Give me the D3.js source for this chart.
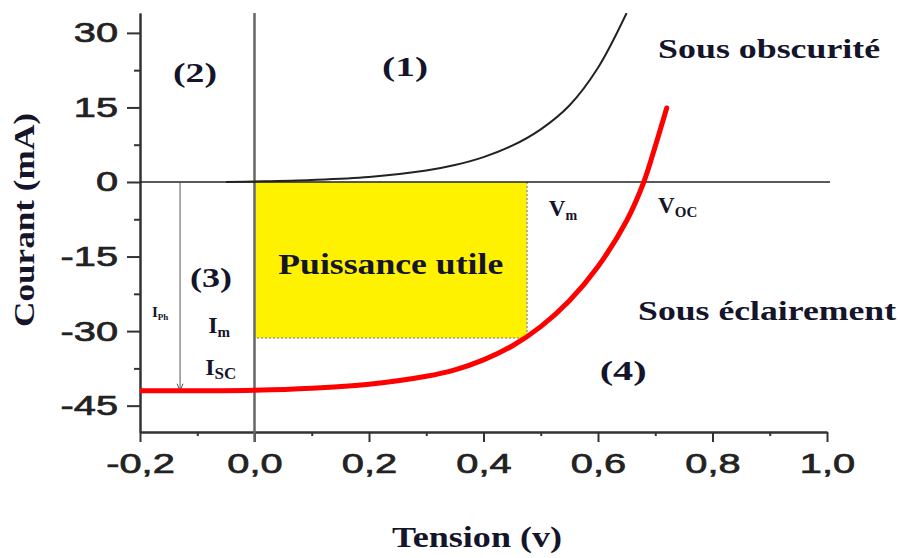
<!DOCTYPE html>
<html>
<head>
<meta charset="utf-8">
<script src="https://cdn.jsdelivr.net/npm/d3@7"></script>
<style>
  body { margin: 0; background: #fff; }
  svg { display: block; }
  .serif { font-family: "Liberation Serif", "Times New Roman", serif; font-weight: bold; fill: #14142a; }
  .tick text { font-family: "Liberation Sans", Arial, sans-serif; font-size: 28px; fill: #222; stroke: #222; stroke-width: 0.7px; }
</style>
</head>
<body>
<div id="chart-area"></div>
<script>

var width = 900,
    height = 558;

// Axis ticks
var xTicks = [-0.2, 0.0, 0.2, 0.4, 0.6, 0.8, 1.0];
var xMinor = [-0.1, 0.1, 0.3, 0.5, 0.7, 0.9];
var yTicks = [30, 15, 0, -15, -30, -45];
var yMinor = [22.5, 7.5, -7.5, -22.5, -37.5];

// Sous obscurité (dark curve)
var darkV = [-0.05, 0.0, 0.1, 0.2, 0.3, 0.35, 0.4, 0.45, 0.5, 0.55, 0.6, 0.65];
var darkI = [0.0, 0.1, 0.4, 1.0, 2.3, 3.4, 5.0, 7.3, 10.6, 15.4, 23.0, 34.0];

// Sous éclairement (light curve)
var lightV = [-0.2, -0.1, 0.0, 0.1, 0.2, 0.3, 0.35, 0.4, 0.45, 0.5, 0.55, 0.6, 0.65, 0.68, 0.7, 0.72];
var lightI = [-42.0, -42.0, -41.9, -41.5, -40.7, -39.1, -37.8, -35.8, -33.0, -29.1, -23.9, -17.0, -7.8, 0.0, 7.2, 14.9];

// Puissance utile rectangle and I_Ph marker
var Vm = 0.476, Im = -31.4;
var VPh = -0.13, IPh = -42.0;

var svg = d3.select("#chart-area").append("svg")
    .attr("width", width)
    .attr("height", height);

var x = d3.scaleLinear().domain([-0.2, 1.0]).range([140, 827]);
var y = d3.scaleLinear().domain([-50.3, 34]).range([432, 13]);

svg.append("clipPath").attr("id", "clip")
  .append("rect")
    .attr("x", x(-0.2)).attr("y", y(34))
    .attr("width", x(1.0) - x(-0.2)).attr("height", y(-50.3) - y(34));

// stretch text horizontally
function stretch(sel, k) {
    sel.each(function() {
        var len = this.getComputedTextLength();
        d3.select(this).attr("textLength", len * k).attr("lengthAdjust", "spacingAndGlyphs");
    });
}
function fitTo(sel, w) {
    sel.attr("textLength", w).attr("lengthAdjust", "spacingAndGlyphs");
}

// Yellow rectangle (useful power)
svg.append("rect")
    .attr("x", x(0) + 1)
    .attr("y", y(0))
    .attr("width", x(Vm) - x(0) - 1)
    .attr("height", y(Im) - y(0))
    .attr("fill", "#fff200");

svg.append("path")
    .attr("d", "M" + x(Vm) + "," + y(0) + "V" + y(Im) + "H" + (x(0) + 1))
    .attr("fill", "none")
    .attr("stroke", "#999")
    .attr("stroke-width", 1.5)
    .attr("stroke-dasharray", "2,2");

// Axes
var fmtX = function(d) { return d3.format(".1f")(d).replace(".", ",").replace("\u2212", "-"); };

var xAxis = svg.append("g")
    .attr("transform", "translate(0," + y(-50.3) + ")")
    .call(d3.axisBottom(x).tickValues(xTicks).tickFormat(fmtX).tickSize(10).tickSizeOuter(0).tickPadding(12));
svg.append("g")
    .attr("transform", "translate(0," + y(-50.3) + ")")
    .call(d3.axisBottom(x).tickValues(xMinor).tickFormat("").tickSize(4).tickSizeOuter(0));

var yAxis = svg.append("g")
    .attr("transform", "translate(" + x(-0.2) + ",0)")
    .call(d3.axisLeft(y).tickValues(yTicks).tickFormat(function(d) { return String(d); }).tickSize(13).tickPadding(9).tickSizeOuter(0));
svg.append("g")
    .attr("transform", "translate(" + x(-0.2) + ",0)")
    .call(d3.axisLeft(y).tickValues(yMinor).tickFormat("").tickSize(6).tickSizeOuter(0));

svg.selectAll(".domain").attr("stroke", "#333").attr("stroke-width", 2);
svg.selectAll(".tick line").attr("stroke", "#333").attr("stroke-width", 2);
xAxis.selectAll("text").attr("dy", "0.68em");
stretch(xAxis.selectAll("text"), 1.42);
stretch(yAxis.selectAll("text"), 1.42);

// vertical line at V = 0
svg.append("line")
    .attr("x1", x(0)).attr("x2", x(0))
    .attr("y1", y(34)).attr("y2", y(-50.3) + 10)
    .attr("stroke", "#666").attr("stroke-width", 2.5);

// horizontal line at I = 0
svg.append("line")
    .attr("x1", x(-0.2)).attr("x2", x(1.0) + 3)
    .attr("y1", y(0)).attr("y2", y(0))
    .attr("stroke", "#222").attr("stroke-width", 1.5);

// I_Ph arrow
svg.append("line")
    .attr("x1", x(VPh)).attr("x2", x(VPh))
    .attr("y1", y(0)).attr("y2", y(IPh))
    .attr("stroke", "#555").attr("stroke-width", 1);
svg.append("path")
    .attr("d", "M" + (x(VPh) - 3) + "," + (y(IPh) - 7) + "L" + x(VPh) + "," + y(IPh) + "L" + (x(VPh) + 3) + "," + (y(IPh) - 7))
    .attr("fill", "none").attr("stroke", "#555").attr("stroke-width", 1);

// Curves
var line = d3.line()
    .x(function(d) { return x(d[0]); })
    .y(function(d) { return y(d[1]); })
    .curve(d3.curveCatmullRom.alpha(0.5));

svg.append("path")
    .datum(d3.zip(darkV, darkI))
    .attr("clip-path", "url(#clip)")
    .attr("d", line)
    .attr("fill", "none")
    .attr("stroke", "#222")
    .attr("stroke-width", 2);

svg.append("path")
    .datum(d3.zip(lightV, lightI))
    .attr("clip-path", "url(#clip)")
    .attr("d", line)
    .attr("fill", "none")
    .attr("stroke", "#ff0000")
    .attr("stroke-width", 5)
    .attr("stroke-linecap", "round");

// Annotations
function label(txt, px, py, size, w, anchor) {
    var t = svg.append("text")
        .attr("class", "serif")
        .attr("x", px).attr("y", py)
        .attr("font-size", size)
        .attr("text-anchor", anchor || "start")
        .text(txt);
    if (w) fitTo(t, w);
    return t;
}

label("(1)", x(0.263), y(21.3), 28, 46, "middle");
label("(2)", x(-0.104), y(20.1), 28, 44, "middle");
label("(3)", x(-0.076), y(-21.1), 28, 42, "middle");
label("(4)", x(0.644), y(-39.8), 28, 47, "middle");
label("Sous obscurité", x(0.705), y(24.9), 28, 222);
label("Sous éclairement", x(0.670), y(-27.8), 28, 258);
label("Puissance utile", x(Vm / 2), y(-18.5), 29, 225, "middle");

function subLabel(main, sub, px, py, size, subSize) {
    var t = svg.append("text")
        .attr("class", "serif")
        .attr("x", px).attr("y", py)
        .attr("font-size", size);
    t.append("tspan").text(main);
    t.append("tspan").attr("font-size", subSize).attr("dy", size * 0.18).text(sub);
}

subLabel("V", "m", x(0.514), y(-6.8), 23, 14);
subLabel("V", "OC", x(0.705), y(-6.2), 23, 15);
subLabel("I", "Ph", x(-0.179), y(-27.2), 15, 9);
subLabel("I", "m", x(-0.081), y(-30.4), 24, 15);
subLabel("I", "SC", x(-0.086), y(-38.8), 24, 17);

// Axis titles
var tx = svg.append("text")
    .attr("class", "serif")
    .attr("x", 477).attr("y", 547)
    .attr("font-size", 29)
    .attr("text-anchor", "middle")
    .text("Tension (v)");
fitTo(tx, 170);

var ty = svg.append("text")
    .attr("class", "serif")
    .attr("transform", "translate(34,220) rotate(-90)")
    .attr("font-size", 29)
    .attr("text-anchor", "middle")
    .text("Courant (mA)");
fitTo(ty, 214);

</script>
</body>
</html>
